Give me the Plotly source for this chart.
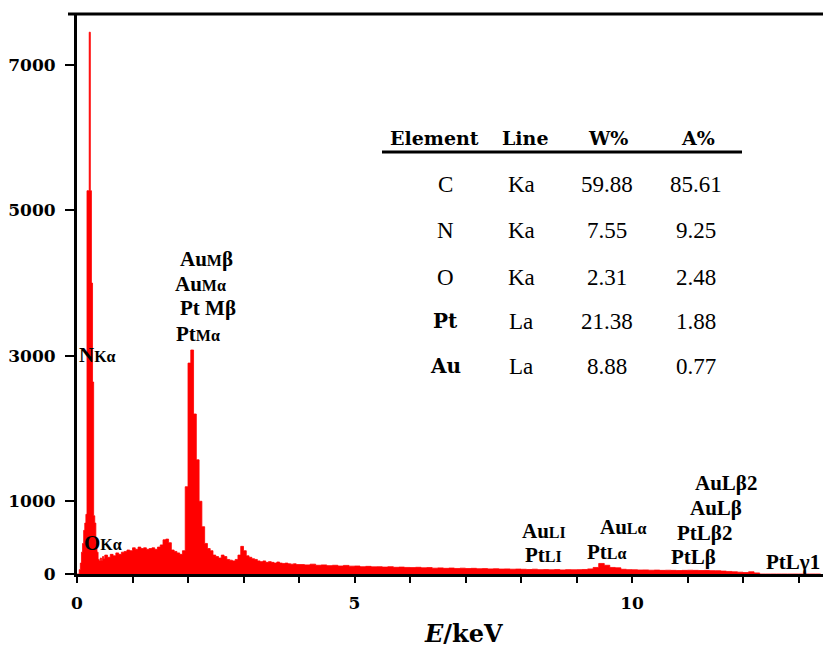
import numpy as np
import plotly.graph_objects as go

# ---- EDS spectrum (counts per channel) ----
# fine channels around the C/N/O region
energy_fine = np.round(np.arange(0.0, 0.49, 0.02), 2)
counts_fine = [0, 0, 60, 150, 300, 420, 600, 700, 820, 5270,
               5270, 7450, 5270, 4000, 2640, 800, 700, 420, 300, 200,
               180, 220, 190, 240, 210]

# 0.50 - 3.95 keV
energy_mid = np.round(np.arange(0.50, 3.96, 0.05), 2)
counts_mid = [260, 230, 270, 250, 290, 270, 300, 310, 330, 320,
              360, 340, 370, 350, 360, 340, 350, 360, 340, 370,
              400, 470, 480, 430, 330, 310, 290, 270, 320, 1200,
              2900, 3080, 2200, 1570, 1000, 650, 420, 350, 320, 260,
              240, 220, 260, 240, 200, 190, 180, 200, 260, 380,
              320, 250, 230, 210, 200, 180, 170, 180, 160, 170,
              160, 150, 165, 150, 145, 150, 140, 135, 140, 130]

# 4.0 - 13.4 keV
energy_tail = np.round(np.arange(4.0, 13.41, 0.1), 1)
counts_tail = [130, 125, 135, 120, 125, 115, 120, 110, 118, 108,
               110, 100, 105, 98, 100, 95, 100, 92, 95, 90,
               88, 92, 85, 88, 80, 84, 78, 82, 76, 80,
               75, 78, 72, 74, 70, 72, 68, 70, 66, 68,
               65, 62, 66, 60, 62, 58, 62, 56, 60, 58,
               60, 62, 70, 90, 145, 120, 90, 85, 65, 60,
               58, 55, 56, 52, 54, 50, 52, 50, 48, 50,
               52, 50, 48, 50, 46, 45, 40, 35, 30, 25,
               20, 30, 15, 0, 0, 0, 0, 0, 0, 0,
               0, 0, 0, 0, 0]

energy = np.concatenate([energy_fine, energy_mid, energy_tail])
counts = np.concatenate([counts_fine, counts_mid, counts_tail])

# ---- quantification table ----
table_header = ["Element", "Line", "W%", "A%"]
elements = ["C", "N", "O", "Pt", "Au"]
lines = ["Ka", "Ka", "Ka", "La", "La"]
w_pct = ["59.88", "7.55", "2.31", "21.38", "8.88"]
a_pct = ["85.61", "9.25", "2.48", "1.88", "0.77"]

# ---- peak labels: (text, energy keV, counts height, x-anchor) ----
S = "<span style='font-size:16px'>{}</span>"
peak_labels = [
    ("Au" + S.format("M") + "β", 2.34, 4330, "center"),
    ("Au" + S.format("Mα"), 2.23, 3990, "center"),
    ("Pt " + "M" + "β", 2.36, 3660, "center"),
    ("Pt" + S.format("Mα"), 2.18, 3300, "center"),
    ("N" + S.format("Kα"), 0.0, 3010, "left"),
    ("O" + S.format("Kα"), 0.09, 430, "left"),
    ("Au" + S.format("LI"), 8.41, 590, "center"),
    ("Pt" + S.format("LI"), 8.40, 260, "center"),
    ("Au" + S.format("Lα"), 9.84, 650, "center"),
    ("Pt" + S.format("Lα"), 9.55, 300, "center"),
    ("AuLβ2", 11.69, 1250, "center"),
    ("AuLβ", 11.51, 905, "center"),
    ("PtLβ2", 11.30, 565, "center"),
    ("PtLβ", 11.10, 235, "center"),
    ("PtLγ1", 13.42, 165, "right"),
]

# plot-area geometry in pixels (used for placing layout items)
L, T, W, H = 77, 14, 746, 560
def fx(px):
    return (px - L) / W
def fy(py):
    return (T + H - py) / H

TICK = dict(family="DejaVu Serif", size=17, color="black", weight="bold")
LABEL = dict(family="Liberation Serif", size=21, color="black", weight="bold")
REG = dict(family="Liberation Serif", size=23, color="black")

fig = go.Figure()
fig.add_trace(go.Scatter(
    x=energy, y=counts, mode="lines", line_shape="hv",
    line=dict(color="#ff0000", width=0.8),
    fill="tozeroy", fillcolor="#ff0000", hoverinfo="skip",
))

annotations = []
for text, e, c, anchor in peak_labels:
    annotations.append(dict(x=e, y=c, xref="x", yref="y", text=text,
                            showarrow=False, xanchor=anchor, yanchor="middle",
                            font=LABEL))

# axis title
annotations.append(dict(x=fx(463), y=fy(633), xref="paper", yref="paper",
                        text="<i>E</i>/keV", showarrow=False,
                        xanchor="center", yanchor="middle",
                        font=dict(family="DejaVu Serif", size=24,
                                  color="black", weight="bold")))

# table
col_x = [434, 525, 608, 698]
for t, cx in zip(table_header, col_x):
    annotations.append(dict(x=fx(cx), y=fy(138), xref="paper", yref="paper",
                            text=t, showarrow=False, xanchor="center",
                            yanchor="middle",
                            font=dict(family="DejaVu Serif", size=19,
                                      color="black", weight="bold")))
row_y = [184, 231, 277, 321, 366]
cell_x = [445, 521, 607, 696]
for i, ry in enumerate(row_y):
    el = elements[i]
    el_font = (dict(family="DejaVu Serif", size=20, color="black",
                    weight="bold") if len(el) > 1 else REG)
    cells = [(el, el_font), (lines[i], REG), (w_pct[i], REG), (a_pct[i], REG)]
    for (txt, fnt), cx in zip(cells, cell_x):
        annotations.append(dict(x=fx(cx), y=fy(ry), xref="paper", yref="paper",
                                text=txt, showarrow=False, xanchor="center",
                                yanchor="middle", font=fnt))

shapes = [
    # frame line along the top
    dict(type="line", xref="paper", yref="paper", x0=fx(68), x1=1.0,
         y0=1.0, y1=1.0, line=dict(color="black", width=3)),
    # table header rule
    dict(type="line", xref="paper", yref="paper", x0=fx(382), x1=fx(742),
         y0=fy(152), y1=fy(152), line=dict(color="black", width=3)),
]

fig.update_layout(
    width=823, height=647,
    margin=dict(l=L, r=823 - L - W, t=T, b=647 - T - H),
    paper_bgcolor="white", plot_bgcolor="white",
    showlegend=False,
    annotations=annotations, shapes=shapes,
    xaxis=dict(range=[0, W / 55.5], showgrid=False, zeroline=False,
               showline=True, linecolor="black", linewidth=3,
               ticks="outside", ticklen=6, tickwidth=2, tickcolor="black",
               tick0=0, dtick=5, tickfont=TICK, ticklabelstandoff=6,
               minor=dict(dtick=1, tick0=0, ticks="outside", ticklen=6,
                          tickwidth=2, tickcolor="black")),
    yaxis=dict(range=[0, 7700], showgrid=False, zeroline=False,
               showline=True, linecolor="black", linewidth=3,
               ticks="outside", ticklen=9, tickwidth=2, tickcolor="black",
               tickvals=[0, 1000, 3000, 5000, 7000],
               tickfont=TICK, ticklabelstandoff=6),
)

fig.write_html("out.html")
